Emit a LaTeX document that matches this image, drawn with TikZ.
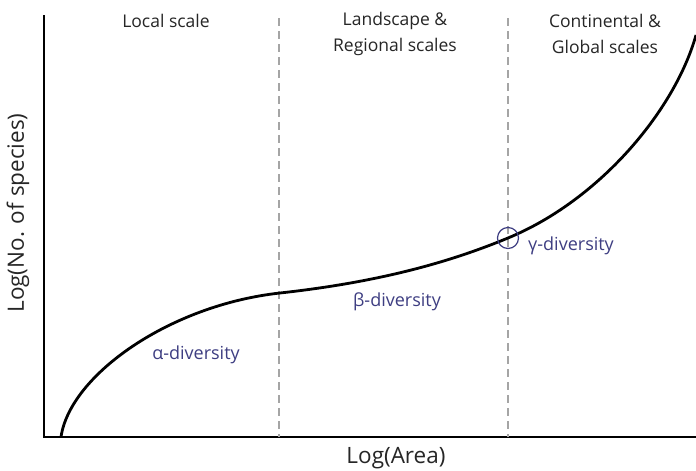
\documentclass[tikz,border=0pt]{standalone}
\usepackage{fontspec}
\setmainfont{Open Sans}
\definecolor{divblue}{RGB}{62,62,130}
\definecolor{dashgray}{RGB}{165,165,165}
\begin{document}
\begin{tikzpicture}[x=1pt,y=-1pt,
  lbl/.style={font=\fontsize{17.5}{26}\selectfont, text=black!85, align=center, inner sep=0pt},
  axlbl/.style={font=\fontsize{22.5}{26}\selectfont, text=black!85, inner sep=0pt},
  divlbl/.style={font=\fontsize{18}{22}\selectfont, text=divblue, inner sep=0pt},
  axis/.style={line width=2.4pt, black},
  sep/.style={dashgray, line width=1.1pt, dash pattern=on 8pt off 5pt},
  curve/.style={line width=2.8pt, black}]
\useasboundingbox (0,0) rectangle (696,471);
\fill[white] (0,0) rectangle (696,471);
% axes
\coordinate (ytop) at (44,15);
\coordinate (origin) at (44,437);
\coordinate (xend) at (696,437);
\draw[axis] (ytop) -- (origin) -- (xend);
% dashed separators
\coordinate (d1t) at (279,18);
\coordinate (d1b) at (279,437);
\coordinate (d2t) at (508,18);
\coordinate (d2b) at (508,437);
\draw[sep] (d1t) -- (d1b);
\draw[sep] (d2t) -- (d2b);
% curve
\coordinate (c0) at (61,437);
\coordinate (c1) at (280,293);
\coordinate (c2) at (508,238);
\coordinate (c3) at (696,35);
\draw[curve] (c0) .. controls (70,375) and (170,305) .. (c1)
  .. controls (380,282) and (450,262) .. (c2)
  .. controls (600,200) and (675,110) .. (c3);
% circle marker
\node[circle, draw=divblue, line width=1.2pt, minimum size=21pt, inner sep=0pt] (gm) at (c2) {};
% headers
\node[lbl] (h1) at (166,21) {Local scale};
\node[lbl] (h2) at (395,34) {Landscape \&\\Regional scales};
\node[lbl] (h3) at (605,34) {Continental \&\\Global scales};
% diversity labels
\node[divlbl] (alpha) at (196,355) {α-diversity};
\node[divlbl] (beta) at (397,302) {β-diversity};
\node[divlbl] (gamma) at (571,246) {γ-diversity};
% axis labels
\node[axlbl] (xl) at (396,458) {Log(Area)};
\node[axlbl, rotate=90] (yl) at (18,213) {Log(No. of species)};
\end{tikzpicture}
\end{document}
